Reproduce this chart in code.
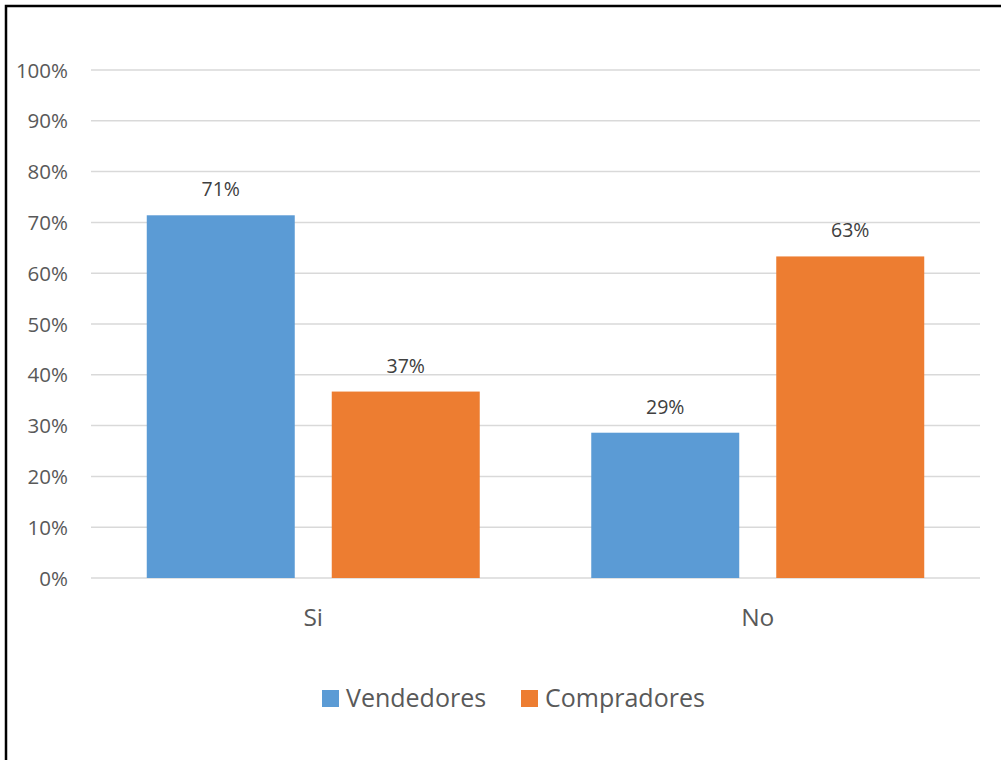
<!DOCTYPE html>
<html>
<head>
<meta charset="utf-8">
<script src="https://cdn.jsdelivr.net/npm/d3@7"></script>
<style>
  body { margin: 0; background: white; }
  text { font-family: "Open Sans", sans-serif; }
</style>
</head>
<body>
<div id="chart"></div>
<script>
// Datos
const categorias = ["Si", "No"];
const series = ["Vendedores", "Compradores"];
const vendedores = [0.714, 0.286];
const compradores = [0.367, 0.633];
const colores = ["#5b9bd5", "#ed7d31"];
const ticks = [0, 0.1, 0.2, 0.3, 0.4, 0.5, 0.6, 0.7, 0.8, 0.9, 1];

const width = 1001,
  height = 760;
const margin = { left: 91, right: 21, top: 70, bottom: 182 };

const svg = d3
  .select("#chart")
  .append("svg")
  .attr("width", width)
  .attr("height", height);

// Borde (recortado a la derecha y abajo)
svg
  .append("rect")
  .attr("x", 6)
  .attr("y", 6)
  .attr("width", width + 20)
  .attr("height", height + 20)
  .attr("fill", "white")
  .attr("stroke", "black")
  .attr("stroke-width", 2.5);

const x0 = d3
  .scaleBand()
  .domain(categorias)
  .range([margin.left, width - margin.right])
  .padding(0);

const x1 = d3
  .scaleBand()
  .domain(series)
  .range([0, x0.bandwidth()])
  .paddingInner(0.2)
  .paddingOuter(0.3014);

const y = d3
  .scaleLinear()
  .domain([0, 1])
  .range([height - margin.bottom, margin.top]);

// Rejilla
svg
  .append("g")
  .selectAll("line")
  .data(ticks)
  .enter()
  .append("line")
  .attr("x1", margin.left)
  .attr("x2", width - margin.right)
  .attr("y1", (d) => y(d))
  .attr("y2", (d) => y(d))
  .attr("stroke", "#d9d9d9")
  .attr("stroke-width", 1.5);

// Eje Y
const yAxis = svg
  .append("g")
  .attr("transform", `translate(${margin.left - 23},0)`)
  .call(
    d3
      .axisLeft(y)
      .tickValues(ticks)
      .tickSize(0)
      .tickPadding(0)
      .tickFormat(d3.format(".0%"))
  );
yAxis.select(".domain").remove();
yAxis
  .selectAll("text")
  .attr("fill", "#595959")
  .style("font-size", "20.5px")
  .attr("dy", "0.35em");

// Barras
const datos = categorias.map((c, i) => ({
  cat: c,
  valores: [
    { serie: series[0], v: vendedores[i] },
    { serie: series[1], v: compradores[i] },
  ],
}));

const grupos = svg
  .append("g")
  .selectAll("g")
  .data(datos)
  .enter()
  .append("g")
  .attr("transform", (d) => `translate(${x0(d.cat)},0)`);

grupos
  .selectAll("rect")
  .data((d) => d.valores)
  .enter()
  .append("rect")
  .attr("x", (d) => x1(d.serie))
  .attr("width", x1.bandwidth())
  .attr("y", (d) => y(d.v))
  .attr("height", (d) => y(0) - y(d.v))
  .attr("fill", (d, i) => colores[i]);

// Etiquetas de datos
grupos
  .selectAll("text")
  .data((d) => d.valores)
  .enter()
  .append("text")
  .attr("x", (d) => x1(d.serie) + x1.bandwidth() / 2)
  .attr("y", (d) => y(d.v) - 19)
  .attr("text-anchor", "middle")
  .attr("fill", "#404040")
  .style("font-size", "19.5px")
  .text((d) => d3.format(".0%")(d.v));

// Eje X (categorías)
svg
  .append("g")
  .selectAll("text")
  .data(categorias)
  .enter()
  .append("text")
  .attr("x", (d) => x0(d) + x0.bandwidth() / 2)
  .attr("y", y(0) + 48)
  .attr("text-anchor", "middle")
  .attr("fill", "#595959")
  .style("font-size", "24.5px")
  .text((d) => d);

// Leyenda
const leyendaX = [322, 521];
const leyenda = svg
  .append("g")
  .selectAll("g")
  .data(series)
  .enter()
  .append("g")
  .attr("transform", (d, i) => `translate(${leyendaX[i]},690)`);

leyenda
  .append("rect")
  .attr("width", 17)
  .attr("height", 17)
  .attr("fill", (d, i) => colores[i]);

leyenda
  .append("text")
  .attr("x", 24)
  .attr("y", 17)
  .attr("fill", "#595959")
  .style("font-size", "25px")
  .text((d) => d);
</script>
</body>
</html>
